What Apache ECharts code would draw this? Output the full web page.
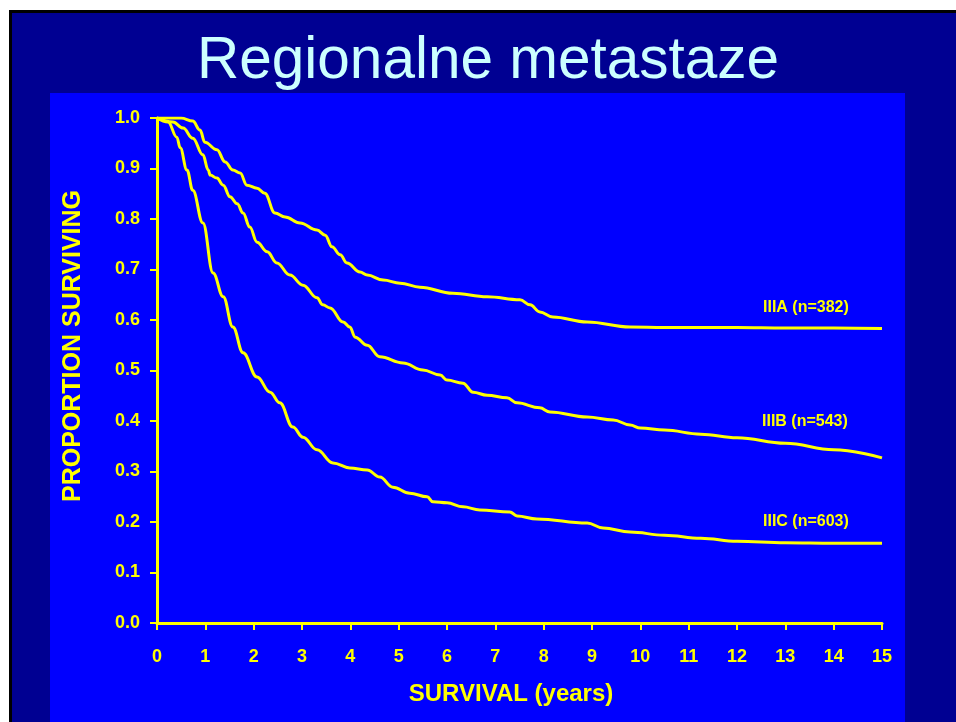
<!DOCTYPE html>
<html>
<head>
<meta charset="utf-8">
<script src="https://cdn.jsdelivr.net/npm/echarts@6/dist/echarts.min.js"></script>
<style>
html,body{margin:0;padding:0;background:#fff;width:956px;height:722px;overflow:hidden;}
#frame{position:absolute;left:9px;top:10px;right:0;bottom:0;background:#000092;border-left:3px solid #000;border-top:3px solid #000;}
#panel{position:absolute;left:50px;top:93px;width:855px;height:629px;background:#0000ff;}
#chart{position:absolute;left:0;top:0;width:956px;height:722px;}
</style>
</head>
<body>
<div id="frame"></div>
<div id="panel"></div>
<div id="chart"></div>
<script>
// Time (years) and proportion surviving for each stage
const tA = [0, 0.5, 0.74, 0.89, 0.99, 1.24, 1.41, 1.57, 1.72, 1.86, 2.07, 2.23, 2.44, 2.65, 2.96, 3.31, 3.48, 3.62, 3.79, 3.93, 4.2, 4.35, 4.68, 5.03, 5.44, 6.12, 6.83, 7.51, 7.72, 7.92, 8.19, 8.9, 9.79, 10.5, 11, 12, 13, 14, 15];
const sA = [1.0, 1.0, 0.994, 0.976, 0.952, 0.937, 0.913, 0.897, 0.891, 0.867, 0.861, 0.851, 0.812, 0.804, 0.792, 0.778, 0.768, 0.745, 0.729, 0.713, 0.695, 0.689, 0.679, 0.673, 0.665, 0.653, 0.646, 0.640, 0.630, 0.616, 0.606, 0.596, 0.586, 0.585, 0.585, 0.585, 0.584, 0.584, 0.583];

const tB = [0, 0.33, 0.54, 0.74, 0.95, 1.06, 1.10, 1.24, 1.37, 1.51, 1.66, 1.78, 1.92, 2.07, 2.28, 2.48, 2.75, 3.02, 3.31, 3.43, 3.58, 3.85, 3.99, 4.10, 4.35, 4.61, 5.09, 5.5, 5.86, 6.0, 6.33, 6.54, 6.83, 7.24, 7.45, 7.92, 8.13, 8.9, 9.44, 9.79, 10, 10.5, 11.25, 12, 13, 14, 15];
const sB = [1.0, 0.992, 0.980, 0.960, 0.927, 0.897, 0.887, 0.881, 0.867, 0.844, 0.830, 0.812, 0.784, 0.754, 0.735, 0.713, 0.689, 0.669, 0.644, 0.630, 0.624, 0.596, 0.586, 0.566, 0.550, 0.527, 0.515, 0.501, 0.491, 0.481, 0.475, 0.457, 0.451, 0.446, 0.436, 0.426, 0.418, 0.408, 0.402, 0.392, 0.386, 0.382, 0.374, 0.367, 0.356, 0.343, 0.327];

const tC = [0, 0.23, 0.41, 0.48, 0.62, 0.74, 0.95, 1.16, 1.37, 1.57, 1.78, 2.07, 2.34, 2.54, 2.81, 3.02, 3.31, 3.64, 3.99, 4.35, 4.61, 4.88, 5.23, 5.59, 5.71, 6.0, 6.33, 6.68, 7.3, 7.45, 7.86, 8.9, 9.23, 9.79, 10.5, 11.25, 12, 13, 14, 15];
const sC = [1.0, 0.992, 0.962, 0.941, 0.897, 0.857, 0.792, 0.693, 0.646, 0.586, 0.535, 0.487, 0.457, 0.436, 0.388, 0.368, 0.343, 0.317, 0.307, 0.303, 0.289, 0.269, 0.257, 0.250, 0.240, 0.238, 0.230, 0.224, 0.220, 0.212, 0.206, 0.198, 0.188, 0.180, 0.174, 0.168, 0.162, 0.159, 0.158, 0.158];

const seriesNames = ['IIIA (n=382)', 'IIIB (n=543)', 'IIIC (n=603)'];
const titleText = 'Regionalne metastaze';
const xName = 'SURVIVAL (years)';
const yName = 'PROPORTION SURVIVING';

const YEL = '#ffff00';
const FONT = 'Liberation Sans, Arial, sans-serif';
const pairs = (t, s) => t.map((x, i) => [x, s[i]]);

const chart = echarts.init(document.getElementById('chart'), null, {renderer: 'canvas'});

function mkSeries(name, t, s) {
  return {
    name: name, type: 'line', data: pairs(t, s),
    showSymbol: false, symbol: 'none', smooth: 0.4, smoothMonotone: 'x',
    lineStyle: {color: YEL, width: 3}, z: 3, animation: false
  };
}

function txt(x, y, text, size, align, vAlign, rot) {
  return {
    type: 'text', x: x, y: y, rotation: rot || 0,
    style: {text: text, fill: YEL, fontFamily: FONT, fontWeight: 'bold', fontSize: size,
      align: align, verticalAlign: vAlign}
  };
}

chart.setOption({
  backgroundColor: 'transparent',
  animation: false,
  title: {
    text: titleText, left: 192, top: 27,
    textStyle: {fontFamily: FONT, fontWeight: 'normal', fontSize: 58.5, color: '#ccffff'}
  },
  grid: {left: 157, right: 74, top: 118, bottom: 99, containLabel: false},
  xAxis: {
    type: 'value', min: 0, max: 15, interval: 1,
    axisLine: {show: true, lineStyle: {color: YEL, width: 3}},
    axisTick: {show: true, length: 7, lineStyle: {color: YEL, width: 2}},
    splitLine: {show: false},
    axisLabel: {color: YEL, fontFamily: FONT, fontWeight: 'bold', fontSize: 18, margin: 25}
  },
  yAxis: {
    type: 'value', min: 0, max: 1, interval: 0.1,
    axisLine: {show: true, lineStyle: {color: YEL, width: 3}},
    axisTick: {show: true, length: 7, lineStyle: {color: YEL, width: 2}},
    splitLine: {show: false},
    axisLabel: {color: YEL, fontFamily: FONT, fontWeight: 'bold', fontSize: 18, margin: 17,
      formatter: v => v.toFixed(1)}
  },
  graphic: [
    txt(511, 694, xName, 24, 'center', 'middle'),
    txt(73, 346, yName, 25, 'center', 'middle', Math.PI / 2),
    txt(763, 308, seriesNames[0], 16, 'left', 'middle'),
    txt(762, 422, seriesNames[1], 16, 'left', 'middle'),
    txt(763, 522, seriesNames[2], 16, 'left', 'middle')
  ],
  series: [mkSeries(seriesNames[0], tA, sA), mkSeries(seriesNames[1], tB, sB), mkSeries(seriesNames[2], tC, sC)]
});
</script>
</body>
</html>
